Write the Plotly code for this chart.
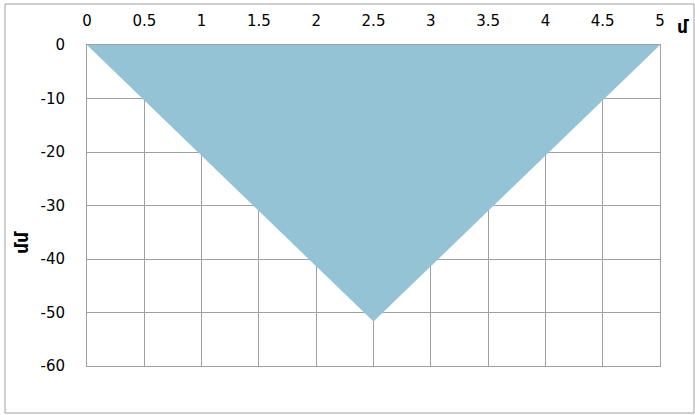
import plotly.graph_objects as go

positions = [0, 2.5, 5]
deflection = [0, -51.7, 0]
x_ticks = [0, 0.5, 1, 1.5, 2, 2.5, 3, 3.5, 4, 4.5, 5]
x_tick_labels = ["0", "0.5", "1", "1.5", "2", "2.5", "3", "3.5", "4", "4.5", "5"]
y_ticks = [0, -10, -20, -30, -40, -50, -60]
y_tick_labels = ["0", "-10", "-20", "-30", "-40", "-50", "-60"]
x_title = "<b>մ</b>"
y_title = "<b>մմ</b>"

W, H = 695, 415
L, R, T, B = 87, 35, 45, 49
pw, ph = W - L - R, H - T - B

def px(x):
    return (x - L) / pw

def py(y):
    return (H - B - y) / ph

fig = go.Figure()
fig.add_trace(go.Scatter(
    x=positions, y=deflection, mode="lines", fill="toself",
    fillcolor="#93c3d4", line=dict(width=0, color="#93c3d4"),
    hoverinfo="skip", showlegend=False,
))

font = dict(family="DejaVu Sans", size=15, color="#000000")
fig.update_layout(
    width=W, height=H,
    margin=dict(l=L, r=R, t=T, b=B),
    paper_bgcolor="white", plot_bgcolor="white",
    font=font,
    xaxis=dict(
        side="top", range=[0, 5], tickmode="array", tickvals=x_ticks,
        ticktext=x_tick_labels, showgrid=True, gridcolor="#a0a0a0", gridwidth=1,
        showline=True, linecolor="#a0a0a0", linewidth=1, mirror=True,
        ticks="", ticklabelstandoff=12, zeroline=False, layer="above traces",
        tickfont=font,
    ),
    yaxis=dict(
        range=[-60, 0], tickmode="array", tickvals=y_ticks,
        ticktext=y_tick_labels, showgrid=True, gridcolor="#a0a0a0", gridwidth=1,
        showline=True, linecolor="#a0a0a0", linewidth=1, mirror=True,
        ticks="", ticklabelstandoff=18, zeroline=False, layer="above traces",
        tickfont=font,
    ),
    shapes=[dict(
        type="rect", xref="paper", yref="paper",
        x0=px(5), x1=px(694), y0=py(413), y1=py(4),
        line=dict(color="#a0a0a0", width=1), fillcolor="rgba(0,0,0,0)",
        layer="below",
    )],
    annotations=[
        dict(text=x_title, xref="paper", yref="paper", x=px(683), y=py(27),
             showarrow=False, font=dict(family="DejaVu Sans", size=17, color="#000"),
             xanchor="center", yanchor="middle"),
        dict(text=y_title, xref="paper", yref="paper", x=px(22), y=py(243),
             showarrow=False, textangle=-90,
             font=dict(family="DejaVu Sans", size=17, color="#000"),
             xanchor="center", yanchor="middle"),
    ],
)

fig.write_html("out.html", config={"displayModeBar": False},
               post_script="document.body.style.margin='0px';")
